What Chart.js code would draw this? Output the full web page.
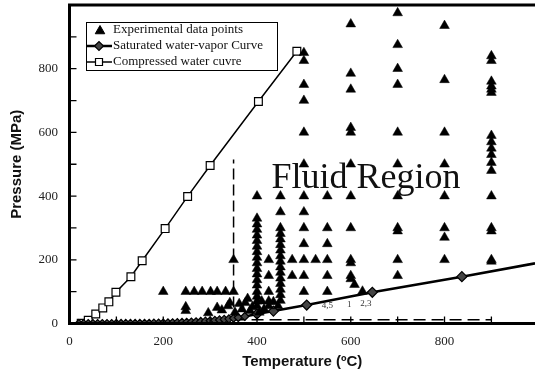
<!DOCTYPE html>
<html>
<head>
<meta charset="utf-8">
<script src="https://cdn.jsdelivr.net/npm/chart.js@4.4.1/dist/chart.umd.min.js"></script>
<style>
  html, body { margin: 0; padding: 0; background: #fff; }
  #wrap { width: 535px; height: 377px; }
</style>
</head>
<body>
<div id="wrap"><canvas id="chart"></canvas></div>
<script>
  // ===== Data =====
  // experimental points, grouped in columns of equal temperature (ºC) -> pressures (MPa)
  const expColumnT = [350, 400, 425, 450, 475, 500, 525, 550, 600, 700, 800, 900];
  const expColumnP = [
    [200, 100],
    [400, 330, 312, 295, 277, 260, 242, 225, 207, 190, 172, 155, 137, 120, 100, 85, 70, 55],
    [200, 150, 100, 70],
    [400, 350, 300, 282, 265, 247, 230, 212, 195, 177, 160, 142, 125, 107, 90, 72],
    [200, 150],
    [850, 825, 750, 700, 600, 500, 400, 350, 300, 250, 200, 150, 100],
    [200],
    [400, 300, 250, 200, 150, 100],
    [940, 785, 735, 615, 600, 500, 400, 300, 200, 190, 150, 140],
    [975, 875, 800, 750, 600, 500, 400, 300, 290, 200, 150],
    [935, 765, 600, 500, 400, 300, 270, 200],
    [840, 825, 760, 745, 735, 725, 590, 570, 550, 530, 505, 480, 400, 300, 290, 200, 195]
  ];
  // scattered experimental points (row at 100 MPa and the low-pressure cluster)
  const expLowT = [200, 248, 266, 283, 301, 315, 333, 248, 248, 296, 315, 325, 338, 342, 353, 362, 375, 380, 390, 385, 368, 410, 415, 435, 425, 445, 405, 608, 625];
  const expLowP = [100, 100, 100, 100, 100, 100, 100, 52, 40, 33, 50, 42, 55, 65, 35, 62, 65, 78, 52, 40, 45, 70, 45, 68, 55, 55, 35, 122, 101];

  // saturated water-vapor curve
  const satT = [20, 30, 40, 50, 60, 70, 80, 90, 100, 110, 120, 130, 140, 150, 160, 170, 180, 190, 200, 210, 220, 230, 240, 250, 260, 270, 280, 290, 300, 310, 320, 330, 340, 350, 360, 374, 400, 435, 506, 646, 837, 993];
  const satP = [0.002, 0.004, 0.007, 0.012, 0.02, 0.03, 0.05, 0.07, 0.1, 0.14, 0.2, 0.27, 0.36, 0.48, 0.62, 0.79, 1.0, 1.25, 1.55, 1.91, 2.32, 2.8, 3.35, 3.97, 4.69, 5.5, 6.4, 7.4, 8.6, 9.9, 11.3, 12.9, 14.6, 16.5, 18.7, 22.1, 30, 39, 58, 98, 147, 189];

  // compressed water curve
  const compT = [25, 40, 56, 71, 84, 99, 131, 155, 204, 252, 300, 403, 485];
  const compP = [1, 10, 30, 49, 68, 98, 147, 197, 298, 399, 496, 697, 855];

  // dashed guide lines
  const vDashT = [350, 350];
  const vDashP = [0, 515];
  const hDashT = [350, 900];
  const hDashP = [12, 12];

  // small point labels near the saturation curve
  const noteText = ['4,5', '1', '2,3'];
  const noteT = [550, 597, 632];
  const noteP = [50, 52, 55];

  const xTicks = [0, 200, 400, 600, 800];
  const yTicks = [0, 200, 400, 600, 800];

  // ===== build point lists =====
  const toXY = (xs, ys) => xs.map((x, i) => ({ x: x, y: ys[i] }));
  const expPoints = [];
  expColumnT.forEach((t, i) => expColumnP[i].forEach(p => expPoints.push({ x: t, y: p })));
  expLowT.forEach((t, i) => expPoints.push({ x: t, y: expLowP[i] }));

  const serif = '"Liberation Serif", "Times New Roman", serif';
  const sans = '"Liberation Sans", Arial, sans-serif';

  // ===== frame: thick axes + inward ticks =====
  const framePlugin = {
    id: 'frame',
    afterDatasetsDraw(chart) {
      const { ctx, chartArea: a, scales: { x, y } } = chart;
      ctx.save();
      ctx.strokeStyle = '#000';
      ctx.lineWidth = 1.3;
      ctx.beginPath();
      for (let v = 100; v < 1000; v += 100) {
        const py = y.getPixelForValue(v);
        ctx.moveTo(a.left, py); ctx.lineTo(a.left + 7, py);
      }
      for (let v = 100; v <= 900; v += 100) {
        const px = x.getPixelForValue(v);
        ctx.moveTo(px, a.bottom); ctx.lineTo(px, a.bottom - 7);
      }
      ctx.stroke();
      ctx.lineWidth = 3;
      ctx.beginPath();
      ctx.moveTo(a.right, a.top);
      ctx.lineTo(a.left, a.top);
      ctx.lineTo(a.left, a.bottom);
      ctx.lineTo(a.right, a.bottom);
      ctx.stroke();
      ctx.restore();
    }
  };

  // ===== texts + boxed legend =====
  function marker(ctx, style, x, y, r, fill) {
    ctx.beginPath();
    if (style === 'triangle') {
      for (let k = 0; k < 3; k++) {
        const ang = k * 2 * Math.PI / 3;
        const px = x + Math.sin(ang) * r, py = y - Math.cos(ang) * r;
        k ? ctx.lineTo(px, py) : ctx.moveTo(px, py);
      }
      ctx.closePath();
    } else if (style === 'diamond') {
      ctx.moveTo(x - r, y); ctx.lineTo(x, y - r); ctx.lineTo(x + r, y); ctx.lineTo(x, y + r); ctx.closePath();
    } else {
      ctx.rect(x - r, y - r, 2 * r, 2 * r);
    }
    ctx.fillStyle = fill;
    ctx.fill();
    ctx.stroke();
  }

  const notesPlugin = {
    id: 'notes',
    afterDraw(chart) {
      const { ctx, scales: { x, y } } = chart;
      ctx.save();
      // region label
      ctx.fillStyle = '#111';
      ctx.font = '36px ' + serif;
      ctx.textBaseline = 'alphabetic';
      ctx.textAlign = 'left';
      ctx.fillText('Fluid Region', x.getPixelForValue(431), y.getPixelForValue(426));
      // small labels
      ctx.font = '9px ' + serif;
      ctx.fillStyle = '#333';
      ctx.textAlign = 'center';
      noteText.forEach((t, i) => ctx.fillText(t, x.getPixelForValue(noteT[i]), y.getPixelForValue(noteP[i])));

      // legend box
      const bx = 86, by = 22, bw = 191, bh = 48;
      ctx.fillStyle = '#fff';
      ctx.fillRect(bx, by, bw, bh);
      ctx.strokeStyle = '#000';
      ctx.lineWidth = 1;
      ctx.strokeRect(bx + 0.5, by + 0.5, bw, bh);
      const rows = [30, 46, 62];
      ctx.font = '13px ' + serif;
      ctx.textAlign = 'left';
      ctx.textBaseline = 'middle';
      // experimental
      ctx.lineWidth = 1;
      marker(ctx, 'triangle', 100, rows[0] + 1, 5.5, '#000');
      // saturated
      ctx.lineWidth = 2.5;
      ctx.beginPath(); ctx.moveTo(bx, rows[1]); ctx.lineTo(bx + 26, rows[1]); ctx.stroke();
      ctx.lineWidth = 1.2;
      marker(ctx, 'diamond', 99, rows[1], 4.5, '#444');
      // compressed
      ctx.lineWidth = 1.5;
      ctx.beginPath(); ctx.moveTo(bx, rows[2]); ctx.lineTo(bx + 26, rows[2]); ctx.stroke();
      ctx.lineWidth = 1.2;
      marker(ctx, 'square', 99, rows[2], 3.5, '#fff');

      ctx.fillStyle = '#111';
      ctx.fillText('Experimental data points', 113, rows[0]);
      ctx.fillText('Saturated water-vapor Curve', 113, rows[1]);
      ctx.fillText('Compressed water cuvre', 113, rows[2]);
      ctx.restore();
    }
  };

  const satLast = satT.length - 1;
  const noPad = (s) => { s.paddingTop = 0; s.paddingBottom = 0; s.paddingLeft = 0; s.paddingRight = 0; };

  new Chart(document.getElementById('chart'), {
    type: 'scatter',
    data: {
      datasets: [
        {
          label: 'Experimental data points',
          data: expPoints,
          pointStyle: 'triangle',
          pointRadius: 5.6,
          pointBackgroundColor: '#000',
          pointBorderColor: '#000',
          pointBorderWidth: 0.5,
          showLine: false,
          order: 1
        },
        {
          label: 'Saturated water-vapor Curve',
          data: toXY(satT, satP),
          showLine: true,
          borderColor: '#000',
          borderWidth: 2.6,
          pointStyle: 'rectRot',
          pointRadius: (c) => c.dataIndex === satLast ? 0 : (c.dataIndex < 36 ? 4 : 5),
          pointBackgroundColor: '#444',
          pointBorderColor: '#000',
          pointBorderWidth: 1.2,
          order: 2
        },
        {
          label: 'Compressed water cuvre',
          data: toXY(compT, compP),
          showLine: true,
          borderColor: '#000',
          borderWidth: 1.5,
          pointStyle: 'rect',
          pointRadius: 5.5,
          pointBackgroundColor: '#fff',
          pointBorderColor: '#000',
          pointBorderWidth: 1.2,
          order: 3
        },
        {
          label: 'vdash',
          data: toXY(vDashT, vDashP),
          showLine: true,
          borderColor: '#000',
          borderWidth: 1.5,
          borderDash: [11, 5],
          pointRadius: 0,
          order: 4
        },
        {
          label: 'hdash',
          data: toXY(hDashT, hDashP),
          showLine: true,
          borderColor: '#000',
          borderWidth: 1.5,
          borderDash: [12, 6],
          pointRadius: 0,
          order: 5
        }
      ]
    },
    options: {
      responsive: true,
      maintainAspectRatio: false,
      animation: false,
      layout: { autoPadding: false, padding: { top: 5, right: 0, left: 0, bottom: 0 } },
      plugins: {
        legend: { display: false },
        tooltip: { enabled: false }
      },
      scales: {
        x: {
          type: 'linear',
          min: 0,
          max: 993,
          afterFit: (s) => { s.height = 53.5; noPad(s); },
          afterBuildTicks: (s) => { s.ticks = xTicks.map(v => ({ value: v })); },
          grid: { display: false, drawTicks: false },
          border: { display: false },
          ticks: {
            padding: 10,
            color: '#222',
            font: { family: serif, size: 13 },
            maxRotation: 0
          },
          title: {
            display: true,
            text: 'Temperature (ºC)',
            color: '#111',
            font: { family: sans, size: 15, weight: 'bold' },
            padding: { top: 0, bottom: 6 }
          }
        },
        y: {
          type: 'linear',
          min: 0,
          max: 1000,
          afterFit: (s) => { s.width = 69.5; noPad(s); },
          afterBuildTicks: (s) => { s.ticks = yTicks.map(v => ({ value: v })); },
          grid: { display: false, drawTicks: false },
          border: { display: false },
          ticks: {
            padding: 11.5,
            color: '#222',
            font: { family: serif, size: 13 }
          },
          title: {
            display: true,
            text: 'Pressure (MPa)',
            color: '#111',
            font: { family: sans, size: 15, weight: 'bold' },
            padding: { top: 8, bottom: 0 }
          }
        }
      }
    },
    plugins: [framePlugin, notesPlugin]
  });
</script>
</body>
</html>
